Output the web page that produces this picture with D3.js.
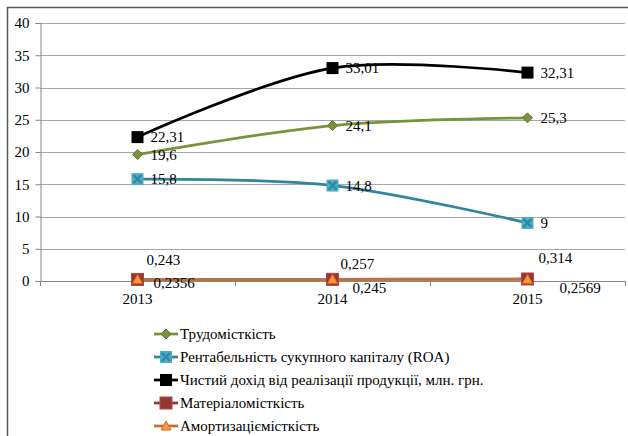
<!DOCTYPE html>
<html>
<head>
<meta charset="utf-8">
<script src="https://cdn.jsdelivr.net/npm/d3@7"></script>
<style>
  body { margin: 0; background: #fff; }
  svg text { font-family: "Liberation Serif", "Times New Roman", Times, "DejaVu Serif", serif !important; fill: #000; font-size: 15px; }
</style>
</head>
<body>
<div id="chart"></div>
<script>
(function(){
    var years = ['2013', '2014', '2015'];
    var yTicks = [0, 5, 10, 15, 20, 25, 30, 35, 40];

    var seriesNames = [
        'Трудомісткість',
        'Рентабельність сукупного капіталу (ROA)',
        'Чистий дохід від реалізації продукції, млн. грн.',
        'Матеріаломісткість',
        'Амортизаціємісткість'
    ];
    var labour   = [19.6, 24.1, 25.3];
    var roa      = [15.8, 14.8, 9];
    var income   = [22.31, 33.01, 32.31];
    var material = [0.243, 0.257, 0.314];
    var deprec   = [0.2356, 0.245, 0.2569];

    var labourLbl   = ['19,6', '24,1', '25,3'];
    var roaLbl      = ['15,8', '14,8', '9'];
    var incomeLbl   = ['22,31', '33,01', '32,31'];
    var materialLbl = ['0,243', '0,257', '0,314'];
    var deprecLbl   = ['0,2356', '0,245', '0,2569'];

    var WIDTH = 628, HEIGHT = 436;
    var FONT = '"Liberation Serif", "Times New Roman", Times, serif';

    var series = [
        {name: seriesNames[0], values: labour, labels: labourLbl, stroke: '#77933C', marker: 'diamond'},
        {name: seriesNames[1], values: roa, labels: roaLbl, stroke: '#31859C', marker: 'x'},
        {name: seriesNames[2], values: income, labels: incomeLbl, stroke: '#000000', marker: 'square'},
        {name: seriesNames[3], values: material, labels: materialLbl, stroke: '#943634', marker: 'redsquare'},
        {name: seriesNames[4], values: deprec, labels: deprecLbl, stroke: '#C0703A', marker: 'triangle'}
    ];

    var svg = d3.select('#chart').append('svg')
        .attr('width', WIDTH)
        .attr('height', HEIGHT)
        .attr('font-family', FONT)
        .attr('font-size', 15);

    // outer frame (left + top edges visible)
    svg.append('path')
        .attr('d', 'M7.5,' + HEIGHT + 'V7.5H' + WIDTH)
        .attr('fill', 'none')
        .attr('stroke', '#595959')
        .attr('stroke-width', 1.5);

    var x = d3.scaleBand().domain(years).range([40, 625]);
    var y = d3.scaleLinear().domain([0, 40]).range([281, 23]);
    var cx = function(i){ return x(years[i]) + x.bandwidth() / 2; };

    // gridlines
    svg.append('g').selectAll('line')
        .data(yTicks)
        .enter().append('line')
        .attr('x1', 40).attr('x2', 625)
        .attr('y1', function(d){ return Math.round(y(d)) + 0.5; })
        .attr('y2', function(d){ return Math.round(y(d)) + 0.5; })
        .attr('stroke', function(d){ return d === 0 ? '#868686' : '#A6A6A6'; })
        .attr('stroke-width', 1);

    // y axis
    var yAxis = svg.append('g')
        .attr('transform', 'translate(40.5,0)')
        .call(d3.axisLeft(y).tickValues(yTicks).tickSize(5).tickPadding(6));
    yAxis.attr('font-family', FONT).attr('font-size', 15);
    yAxis.select('.domain').attr('stroke', '#868686');
    yAxis.selectAll('.tick line').attr('stroke', '#868686');
    yAxis.selectAll('text').attr('fill', '#000');

    // x axis
    var xAxis = svg.append('g')
        .attr('transform', 'translate(0,' + (Math.round(y(0)) + 0.5) + ')')
        .call(d3.axisBottom(x).tickSize(0).tickPadding(12));
    xAxis.attr('font-family', FONT).attr('font-size', 15);
    xAxis.select('.domain').remove();
    xAxis.selectAll('text').attr('fill', '#000');
    svg.append('g').selectAll('line')
        .data([40, 235, 430, 625])
        .enter().append('line')
        .attr('x1', function(d){ return d + 0.5; })
        .attr('x2', function(d){ return d + 0.5; })
        .attr('y1', y(0)).attr('y2', y(0) + 5)
        .attr('stroke', '#868686');

    var line = d3.line()
        .x(function(d, i){ return cx(i); })
        .y(function(d){ return y(d); })
        .curve(d3.curveCatmullRom.alpha(0.5));

    function drawMarker(g, type){
        if(type === 'diamond'){
            g.append('path').attr('d', 'M0,-5L5,0L0,5L-5,0Z')
                .attr('fill', '#77933C').attr('stroke', '#5E7A2B').attr('stroke-width', 1);
        } else if(type === 'square'){
            g.append('rect').attr('x', -6).attr('y', -6).attr('width', 12).attr('height', 12)
                .attr('fill', '#000');
        } else if(type === 'redsquare'){
            g.append('rect').attr('x', -6).attr('y', -6).attr('width', 12).attr('height', 12)
                .attr('fill', '#943634').attr('stroke', '#B04744').attr('stroke-width', 1);
        } else if(type === 'x'){
            g.append('rect').attr('x', -6).attr('y', -6).attr('width', 12).attr('height', 12)
                .attr('fill', '#4BACC6');
            g.append('path').attr('d', 'M-4,-4L4,4M4,-4L-4,4')
                .attr('stroke', '#31859C').attr('stroke-width', 2.2);
        } else if(type === 'triangle'){
            g.append('path').attr('d', 'M0,-5L5,4L-5,4Z')
                .attr('fill', '#F79646').attr('stroke', '#E46C0A').attr('stroke-width', 1);
        }
    }

    series.forEach(function(s){
        svg.append('path')
            .datum(s.values)
            .attr('d', line)
            .attr('fill', 'none')
            .attr('stroke', s.stroke)
            .attr('stroke-width', 2.75);
    });
    series.forEach(function(s){
        s.values.forEach(function(v, i){
            var g = svg.append('g')
                .attr('transform', 'translate(' + cx(i) + ',' + y(v) + ')');
            drawMarker(g, s.marker);
        });
    });

    // data labels
    [0, 1, 2].forEach(function(k){
        var s = series[k];
        svg.append('g').selectAll('text')
            .data(s.values)
            .enter().append('text')
            .attr('x', function(d, i){ return cx(i) + 13; })
            .attr('y', function(d){ return y(d); })
            .attr('dy', '0.35em')
            .text(function(d, i){ return s.labels[i]; });
    });
    // small series labels: material above, depreciation below
    var matOff = [[9, -20], [8, -16], [11, -21]];
    var depOff = [[16, 3], [20, 8], [32, 8]];
    svg.append('g').selectAll('text')
        .data(material)
        .enter().append('text')
        .attr('x', function(d, i){ return cx(i) + matOff[i][0]; })
        .attr('y', function(d, i){ return y(d) + matOff[i][1]; })
        .attr('dy', '0.35em')
        .text(function(d, i){ return materialLbl[i]; });
    svg.append('g').selectAll('text')
        .data(deprec)
        .enter().append('text')
        .attr('x', function(d, i){ return cx(i) + depOff[i][0]; })
        .attr('y', function(d, i){ return y(d) + depOff[i][1]; })
        .attr('dy', '0.35em')
        .text(function(d, i){ return deprecLbl[i]; });

    // legend
    var legend = svg.append('g').attr('transform', 'translate(154,334)');
    var rowH = 23;
    series.forEach(function(s, i){
        var row = legend.append('g').attr('transform', 'translate(0,' + (i * rowH) + ')');
        row.append('line')
            .attr('x1', 0).attr('x2', 24)
            .attr('y1', 0).attr('y2', 0)
            .attr('stroke', s.stroke).attr('stroke-width', 2.75);
        drawMarker(row.append('g').attr('transform', 'translate(12,0)'), s.marker);
        row.append('text')
            .attr('x', 26).attr('y', 0)
            .attr('dy', '0.35em')
            .text(s.name);
    });
})();
</script>
</body>
</html>
